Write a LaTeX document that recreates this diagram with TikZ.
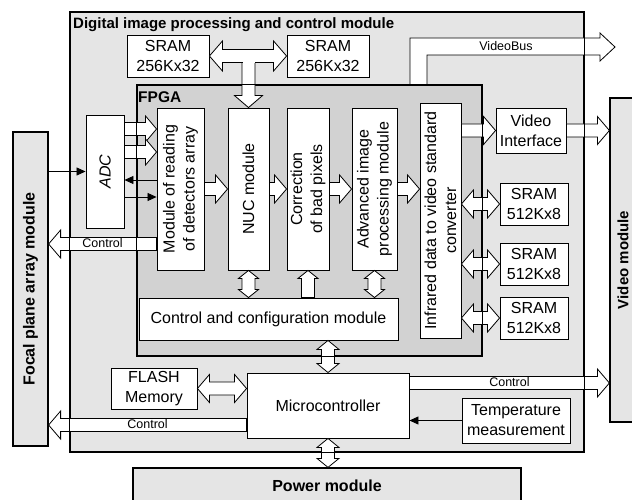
\documentclass[tikz,border=0pt]{standalone}
\usepackage{fontspec}
\setmainfont{Liberation Sans}
\usetikzlibrary{arrows.meta,positioning,calc}

% hollow block arrows, drawn as outlines between two points
\newcommand\shaftw{6.5}
\newcommand\fp[2]{({\x1+(#1)*\n2-(#2)*\n3},{\y1+(#1)*\n3+(#2)*\n2})}
\newcommand\fatarrow[3][12]{%
  \draw[fatbody] let \p1=(#2), \p2=(#3), \n1={veclen(\x2-\x1,\y2-\y1)},
      \n2={(\x2-\x1)/\n1}, \n3={(\y2-\y1)/\n1} in
    \fp{0}{\shaftw} -- \fp{\n1-#1}{\shaftw} -- \fp{\n1-#1}{#1+2}
    -- \fp{\n1}{0} -- \fp{\n1-#1}{-#1-2} -- \fp{\n1-#1}{-\shaftw}
    -- \fp{0}{-\shaftw} -- cycle;}
\newcommand\fatdarrow[3][12]{%
  \draw[fatbody] let \p1=(#2), \p2=(#3), \n1={veclen(\x2-\x1,\y2-\y1)},
      \n2={(\x2-\x1)/\n1}, \n3={(\y2-\y1)/\n1} in
    \fp{0}{0} -- \fp{#1}{#1+2} -- \fp{#1}{\shaftw} -- \fp{\n1-#1}{\shaftw}
    -- \fp{\n1-#1}{#1+2} -- \fp{\n1}{0} -- \fp{\n1-#1}{-#1-2}
    -- \fp{\n1-#1}{-\shaftw} -- \fp{#1}{-\shaftw} -- \fp{#1}{-#1-2} -- cycle;}

\tikzset{
  module/.style={draw, fill=gray!20, line width=1.2pt, inner sep=0pt},
  fpgabox/.style={draw, fill=gray!35, line width=1.2pt, inner sep=0pt},
  box/.style={draw, fill=white, line width=0.9pt, inner sep=1pt, align=center,
    font=\fontsize{16}{20}\selectfont},
  rbox/.style={box, rotate=90},
  title/.style={font=\bfseries\fontsize{15}{18}\selectfont, inner sep=0pt},
  bigtitle/.style={title, font=\bfseries\fontsize{16}{18}\selectfont},
  lbl/.style={font=\fontsize{12.5}{14}\selectfont, inner sep=0pt},
  fatbody/.style={draw, fill=white, line width=0.8pt, line join=miter},
  thin/.style={line width=0.8pt, -{Triangle[length=9pt,width=8pt]}},
}

\begin{document}
\begin{tikzpicture}[x=1pt,y=-1pt]
    \useasboundingbox (0,0) rectangle (632,500);

    % Outer modules (rotated ones: north = left side, south = right side)
    \node[module, minimum width=514pt, minimum height=440pt] (dip) at (327,232) {};
    \node[title, anchor=west] (diptxt) at (73,25) {Digital image processing and control module};
    \node[module, minimum width=314pt, minimum height=35pt, rotate=90, bigtitle] (fpa) at (30.5,289) {Focal plane array module};
    \node[module, minimum width=324pt, minimum height=26pt, rotate=90, title] (vmod) at (623,260) {Video module};
    \node[module, minimum width=388pt, minimum height=36pt, bigtitle] (pwr) at (327,486) {Power module};

    % FPGA
    \node[fpgabox, minimum width=345pt, minimum height=271pt] (fpga) at (309.5,220.5) {};
    \node[title, anchor=west, font=\bfseries\fontsize{15.5}{18}\selectfont] (fpgatxt) at (138,97) {FPGA};

    % Blocks
    \node[box, minimum width=82pt, minimum height=42pt] (s32a) at (168,56) {SRAM\\256Kx32};
    \node[box, minimum width=82pt, minimum height=42pt] (s32b) at (328,56) {SRAM\\256Kx32};
    \node[rbox, minimum width=113pt, minimum height=38pt, font=\itshape\fontsize{16}{20}\selectfont] (adc) at (105,171.5) {ADC};
    \node[rbox, minimum width=162pt, minimum height=47pt] (rd) at (180.5,189) {Module of reading\\of detectors array};
    \node[rbox, minimum width=162pt, minimum height=41pt] (nuc) at (248.5,189) {NUC module};
    \node[rbox, minimum width=162pt, minimum height=42pt] (cor) at (308,189) {Correction\\of bad pixels};
    \node[rbox, minimum width=162pt, minimum height=45pt] (adv) at (374.5,189) {Advanced image\\processing module};
    \node[rbox, minimum width=235pt, minimum height=41pt] (ird) at (440.5,220.5) {Infrared data to video standard\\converter};
    \node[box, minimum width=259pt, minimum height=42pt] (cfg) at (268.5,319) {Control and configuration module};
    \node[box, minimum width=70pt, minimum height=45pt] (vif) at (531,130.5) {Video\\Interface};
    \node[box, minimum width=68pt, minimum height=42pt] (s8a) at (534,204) {SRAM\\512Kx8};
    \node[box, minimum width=68pt, minimum height=42pt] (s8b) at (534,264) {SRAM\\512Kx8};
    \node[box, minimum width=68pt, minimum height=42pt] (s8c) at (534,318) {SRAM\\512Kx8};
    \node[box, minimum width=86pt, minimum height=41pt] (flash) at (154,388.5) {FLASH\\Memory};
    \node[box, minimum width=162pt, minimum height=65pt] (mcu) at (328,405.5) {Microcontroller};
    \node[box, minimum width=108pt, minimum height=45pt] (tmp) at (516,420.5) {Temperature\\measurement};

    % SRAM bus
    \fatarrow[12]{nuc.east |- s32a.east}{nuc.east}
    \fatdarrow[13]{s32a.east}{s32b.west}
    \fill[white] ($(nuc.east |- s32a.east)+(-6,0)$) rectangle ($(nuc.east |- s32a.east)+(6,6.9)$);

    % VideoBus
    \coordinate (vbtip) at (615,47);
    \fill[white] (410,85) -- (410,38) -- (600,38) -- (600,33) -- (vbtip) -- (600,61) -- (600,55) -- (427,55) -- (427,85) -- cycle;
    \draw[line width=0.8pt, line join=miter] (410,85) -- (410,38) -- (600,38) -- (600,33) -- (vbtip) -- (600,61) -- (600,55) -- (427,55) -- (427,85);
    \node[lbl] (vbus) at (506,46.5) {VideoBus};

    % ADC links
    \coordinate (a1) at ($(adc.south)+(0,-42.5)$);
    \coordinate (a2) at ($(adc.south)+(0,-19.5)$);
    \coordinate (a3) at ($(adc.south)+(0,8.5)$);
    \coordinate (a4) at ($(adc.south)+(0,25.5)$);
    \fatarrow[11]{a1}{rd.north |- a1}
    \fatarrow[11]{a2}{rd.north |- a2}
    \draw[thin] (rd.north |- a3) -- (a3);
    \draw[thin] (a4) -- (rd.north |- a4);
    \draw[thin] (fpa.south |- adc.north) -- (adc.north);

    % Pipeline
    \fatarrow[12]{rd.south}{nuc.north}
    \fatarrow[12]{nuc.south}{cor.north}
    \fatarrow[12]{cor.south}{adv.north}
    \fatarrow[12]{adv.south}{ird.north |- adv.south}
    \fatarrow[12]{ird.south |- vif.west}{vif.west}
    \fatarrow[12]{vif.east}{vmod.north |- vif.east}
    \fatdarrow[12]{ird.south |- s8a.west}{s8a.west}
    \fatdarrow[12]{ird.south |- s8b.west}{s8b.west}
    \fatdarrow[12]{ird.south |- s8c.west}{s8c.west}

    % Control and configuration links
    \fatdarrow[8]{nuc.west}{nuc.west |- cfg.north}
    \fatarrow[8]{cor.west |- cfg.north}{cor.west}
    \fatdarrow[8]{adv.west}{adv.west |- cfg.north}
    \fatdarrow[9]{mcu.north |- cfg.south}{mcu.north}
    \fatdarrow[9]{mcu.south}{mcu.south |- pwr.north}
    \fatdarrow[12]{flash.east}{mcu.west |- flash.east}
    \draw[thin] (tmp.west) -- (mcu.east |- tmp.west);

    % Control lines
    \coordinate (c1) at ($(rd.north)+(0,55)$);
    \coordinate (c2) at ($(mcu.west)+(0,19.5)$);
    \coordinate (c3) at ($(mcu.east)+(0,-22.5)$);
    \fatarrow[12]{c1}{fpa.south |- c1}
    \fatarrow[12]{c2}{fpa.south |- c2}
    \fatarrow[12]{c3}{vmod.north |- c3}
    \node[lbl] (ctl1) at ($(c1)!0.5!(fpa.south |- c1)+(0,-0.5)$) {Control};
    \node[lbl] (ctl2) at ($(c2)!0.5!(fpa.south |- c2)+(0,-0.5)$) {Control};
    \node[lbl] (ctl3) at ($(c3)!0.5!(vmod.north |- c3)+(0,-0.5)$) {Control};

    % Borders on top
    \draw[line width=1.2pt] (dip.north west) rectangle (dip.south east);
    \draw[line width=1.2pt] (fpga.north west) rectangle (fpga.south east);
\end{tikzpicture}
\end{document}
